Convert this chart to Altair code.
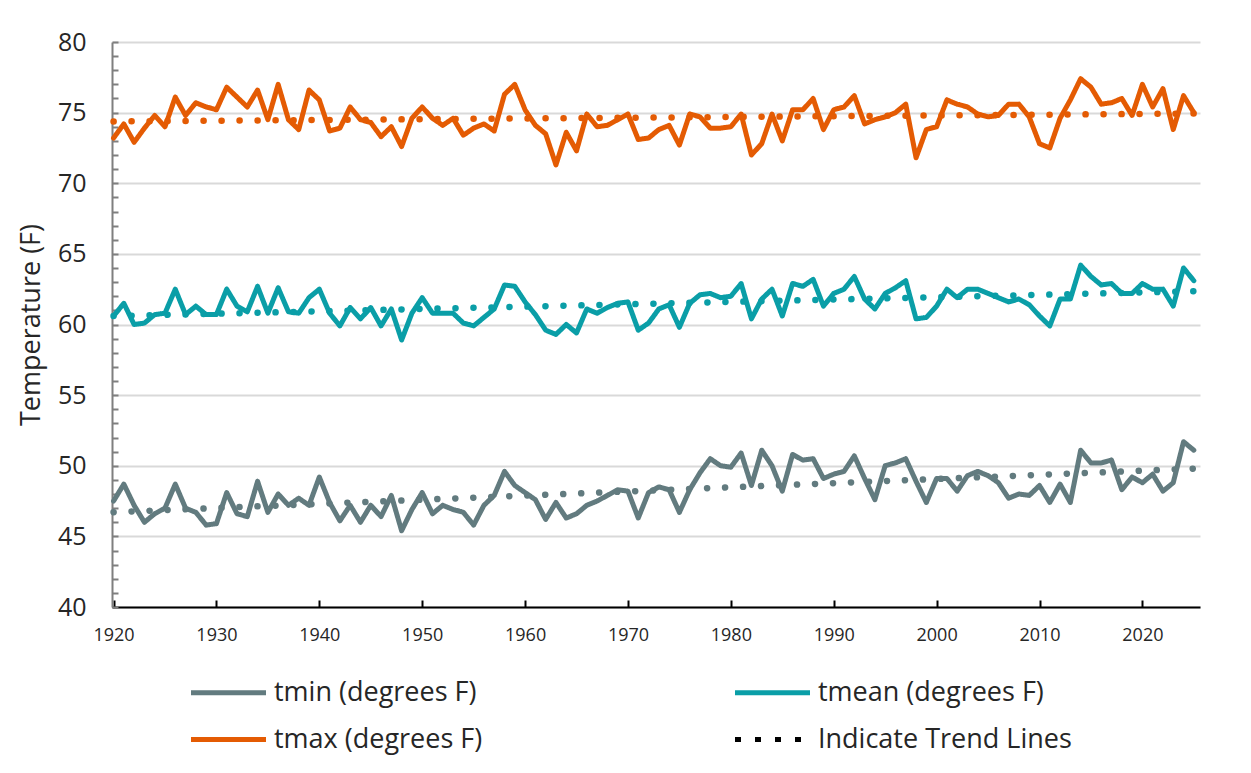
import altair as alt
import pandas as pd

years = list(range(1920, 2026))

tmin = [47.5, 48.7, 47.2, 46.0, 46.6, 47.0, 48.7, 47.0, 46.7, 45.8,
        45.9, 48.1, 46.6, 46.4, 48.9, 46.7, 48.0, 47.2, 47.7, 47.2,
        49.2, 47.4, 46.1, 47.2, 46.0, 47.2, 46.4, 47.9, 45.4, 46.9,
        48.1, 46.6, 47.2, 46.9, 46.7, 45.8, 47.2, 47.9, 49.6, 48.6,
        48.1, 47.6, 46.2, 47.4, 46.3, 46.6, 47.2, 47.5, 47.9, 48.3,
        48.2, 46.3, 48.1, 48.5, 48.3, 46.7, 48.3, 49.5, 50.5, 50.0,
        49.9, 50.9, 48.6, 51.1, 50.0, 48.2, 50.8, 50.4, 50.5, 49.1,
        49.4, 49.6, 50.7, 49.1, 47.6, 50.0, 50.2, 50.5, 48.9, 47.4,
        49.1, 49.1, 48.2, 49.3, 49.6, 49.3, 48.8, 47.7, 48.0, 47.9,
        48.6, 47.4, 48.7, 47.4, 51.1, 50.2, 50.2, 50.4, 48.3, 49.2,
        48.8, 49.4, 48.2, 48.8, 51.7, 51.1]

tmean = [60.6, 61.5, 60.0, 60.1, 60.7, 60.8, 62.5, 60.7, 61.3, 60.7,
         60.7, 62.5, 61.3, 60.9, 62.7, 60.8, 62.6, 60.9, 60.8, 61.9,
         62.5, 60.8, 59.9, 61.2, 60.4, 61.2, 59.9, 61.1, 58.9, 60.8,
         61.9, 60.8, 60.8, 60.8, 60.1, 59.9, 60.5, 61.1, 62.8, 62.7,
         61.6, 60.7, 59.6, 59.3, 60.0, 59.4, 61.1, 60.8, 61.2, 61.5,
         61.6, 59.6, 60.1, 61.1, 61.4, 59.8, 61.5, 62.1, 62.2, 61.9,
         62.0, 62.9, 60.4, 61.8, 62.5, 60.6, 62.9, 62.7, 63.2, 61.3,
         62.2, 62.5, 63.4, 61.8, 61.1, 62.2, 62.6, 63.1, 60.4, 60.5,
         61.3, 62.5, 61.9, 62.5, 62.5, 62.2, 61.9, 61.6, 61.8, 61.4,
         60.6, 59.9, 61.8, 61.8, 64.2, 63.4, 62.8, 62.9, 62.2, 62.2,
         62.9, 62.5, 62.5, 61.3, 64.0, 63.1]

tmax = [73.2, 74.2, 72.9, 73.9, 74.8, 74.0, 76.1, 74.8, 75.7, 75.4,
        75.2, 76.8, 76.1, 75.4, 76.6, 74.5, 77.0, 74.5, 73.8, 76.6,
        75.9, 73.7, 73.9, 75.4, 74.5, 74.3, 73.3, 74.0, 72.6, 74.6,
        75.4, 74.6, 74.1, 74.6, 73.4, 73.9, 74.2, 73.7, 76.3, 77.0,
        75.2, 74.1, 73.5, 71.3, 73.6, 72.3, 74.9, 74.0, 74.1, 74.5,
        74.9, 73.1, 73.2, 73.8, 74.1, 72.7, 74.9, 74.7, 73.9, 73.9,
        74.0, 74.9, 72.0, 72.8, 74.9, 73.0, 75.2, 75.2, 76.0, 73.8,
        75.2, 75.4, 76.2, 74.2, 74.5, 74.7, 75.0, 75.6, 71.8, 73.8,
        74.0, 75.9, 75.6, 75.4, 74.9, 74.7, 74.8, 75.6, 75.6, 74.7,
        72.8, 72.5, 74.6, 75.9, 77.4, 76.8, 75.6, 75.7, 76.0, 74.8,
        77.0, 75.4, 76.7, 73.8, 76.2, 75.0]

series_names = ["tmin (degrees F)", "tmean (degrees F)", "tmax (degrees F)"]
trend_label = "Indicate Trend Lines"
series_colors = ["#627B7F", "#0A9EA7", "#E45B03"]
decade_ticks = list(range(1920, 2021, 10))
y_major = list(range(40, 81, 5))
y_minor = list(range(40, 81, 1))

rows = []
for name, vals in zip(series_names, [tmin, tmean, tmax]):
    for yr, v in zip(years, vals):
        rows.append({"year": yr, "value": v, "series": name})
df = pd.DataFrame(rows)

FONT = "Open Sans"
TXT = "#262626"

xscale = alt.Scale(domain=[1919.85, 2025.6], nice=False, zero=False)
yscale = alt.Scale(domain=[40, 80], nice=False, zero=False)

# legend fills column by column: tmin, tmax | tmean, trend
legend_domain = [series_names[0], series_names[2], series_names[1], trend_label]
legend_colors = [series_colors[0], series_colors[2], series_colors[1], "#000000"]
dash_range = [[1, 0], [1, 0], [1, 0], [6, 14]]


def make_legend():
    return alt.Legend(
        title=None, orient="none", legendX=78, legendY=637, columns=2,
        columnPadding=242, rowPadding=19, padding=0,
        symbolType="M-3.75,0H3.75", symbolSize=400, symbolStrokeWidth=5,
        symbolOffset=25, labelOffset=32, labelFontSize=27, labelFont=FONT,
        labelColor=TXT, labelLimit=600,
    )


base = alt.Chart(df)

lines = base.mark_line(strokeWidth=5, strokeJoin="round", strokeCap="round").encode(
    x=alt.X("year:Q", scale=xscale, axis=alt.Axis(
        orient="bottom", values=decade_ticks, format="d", ticks=False, grid=False,
        domainColor="#000000", domainWidth=2, labelFontSize=18, labelFont=FONT,
        labelColor=TXT, labelPadding=19, title=None)),
    y=alt.Y("value:Q", scale=yscale, axis=alt.Axis(
        orient="left", values=y_major, ticks=False, grid=True, gridColor="#D9D9D9",
        gridWidth=2, domainColor="#7F7F7F", domainWidth=2, labelFontSize=25,
        labelFont=FONT, labelColor=TXT, labelPadding=26, title="Temperature (F)",
        titleFontSize=27, titleFont=FONT, titleFontWeight="normal", titleColor=TXT,
        titlePadding=12)),
    color=alt.Color("series:N", scale=alt.Scale(domain=legend_domain, range=legend_colors),
                    legend=make_legend()),
    strokeDash=alt.StrokeDash("series:N", scale=alt.Scale(domain=legend_domain, range=dash_range),
                              legend=make_legend()),
)

trend = base.transform_regression(
    "year", "value", groupby=["series"]
).mark_line(strokeWidth=6.5, strokeCap="round", strokeDash=[0.1, 17.9]).encode(
    x=alt.X("year:Q", scale=xscale, axis=None),
    y=alt.Y("value:Q", scale=yscale, axis=None),
    stroke=alt.Stroke("series:N", scale=alt.Scale(domain=series_names, range=series_colors),
                      legend=None),
)

ticks = base.mark_line(strokeOpacity=0).encode(
    x=alt.X("year:Q", scale=xscale, axis=alt.Axis(
        orient="bottom", offset=-7, values=decade_ticks, tickSize=7, tickColor="#000000",
        tickWidth=2, labels=False, domain=False, grid=False, title=None)),
    y=alt.Y("value:Q", scale=yscale, axis=alt.Axis(
        orient="left", offset=-6, values=y_minor, tickSize=6, tickColor="#7F7F7F",
        tickWidth=2, labels=False, domain=False, grid=False, title=None)),
    detail="series:N",
)

chart = alt.layer(lines, trend, ticks).resolve_axis(
    x="independent", y="independent"
).properties(
    width=1088, height=565,
    padding={"left": 104, "top": 34, "right": 40, "bottom": 160},
    autosize=alt.AutoSizeParams(type="none"),
    background="#FFFFFF",
).configure_view(strokeWidth=0)

chart.save("out.html", embed_options={"renderer": "svg", "actions": False})
